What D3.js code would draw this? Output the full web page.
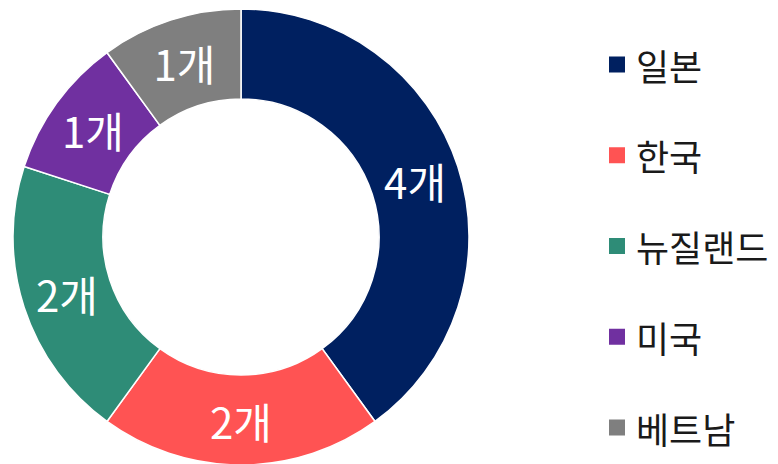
<!DOCTYPE html>
<html>
<head>
<meta charset="utf-8">
<script src="https://cdn.jsdelivr.net/npm/d3@7"></script>
<style>
  body { margin: 0; background: #fff; }
  svg { display: block; }
</style>
</head>
<body>
<script>
// Data
var countries = ['일본', '한국', '뉴질랜드', '미국', '베트남'];
var counts = [4, 2, 2, 1, 1];
var colors = ['#002060', '#FF5353', '#2E8C77', '#7030A0', '#7F7F7F'];

var width = 778, height = 464;
var cx = 241, cy = 237;
var outerR = 228, innerR = 138;

var svg = d3.select('body').append('svg')
    .attr('width', width)
    .attr('height', height);

var data = countries.map((c, i) => ({ name: c, value: counts[i], color: colors[i] }));

var pie = d3.pie()
    .value(d => d.value)
    .sort(null);

var arc = d3.arc()
    .innerRadius(innerR)
    .outerRadius(outerR);

var labelArc = d3.arc()
    .innerRadius((innerR + outerR) / 2)
    .outerRadius((innerR + outerR) / 2);

var g = svg.append('g')
    .attr('transform', 'translate(' + cx + ',' + cy + ')');

var slices = g.selectAll('g.slice')
    .data(pie(data))
    .enter()
    .append('g')
    .attr('class', 'slice');

slices.append('path')
    .attr('d', arc)
    .attr('fill', d => d.data.color)
    .attr('stroke', '#fff')
    .attr('stroke-width', 1.5);

// value labels sit on the ring's mid radius
slices.append('text')
    .attr('transform', d => 'translate(' + labelArc.centroid(d) + ')')
    .attr('text-anchor', 'middle')
    .attr('dominant-baseline', 'central')
    .attr('fill', '#fff')
    .style('font-family', '"Noto Sans CJK KR", "Noto Sans", sans-serif')
    .style('font-size', '42px')
    .text(d => d.data.value + '개');

// Legend
var legendY = d3.scaleLinear()
    .domain([0, countries.length - 1])
    .range([64.5, 427.5]);

var legend = svg.append('g')
    .selectAll('g')
    .data(data)
    .enter()
    .append('g')
    .attr('transform', (d, i) => 'translate(609,' + legendY(i) + ')');

legend.append('rect')
    .attr('x', 0)
    .attr('y', -8)
    .attr('width', 16)
    .attr('height', 16)
    .attr('fill', d => d.color);

legend.append('text')
    .attr('x', 27)
    .attr('y', 0)
    .attr('dominant-baseline', 'central')
    .attr('fill', '#1a1a1a')
    .style('font-family', '"Noto Sans CJK KR", "Noto Sans", sans-serif')
    .style('font-size', '36px')
    .text(d => d.name);
</script>
</body>
</html>
